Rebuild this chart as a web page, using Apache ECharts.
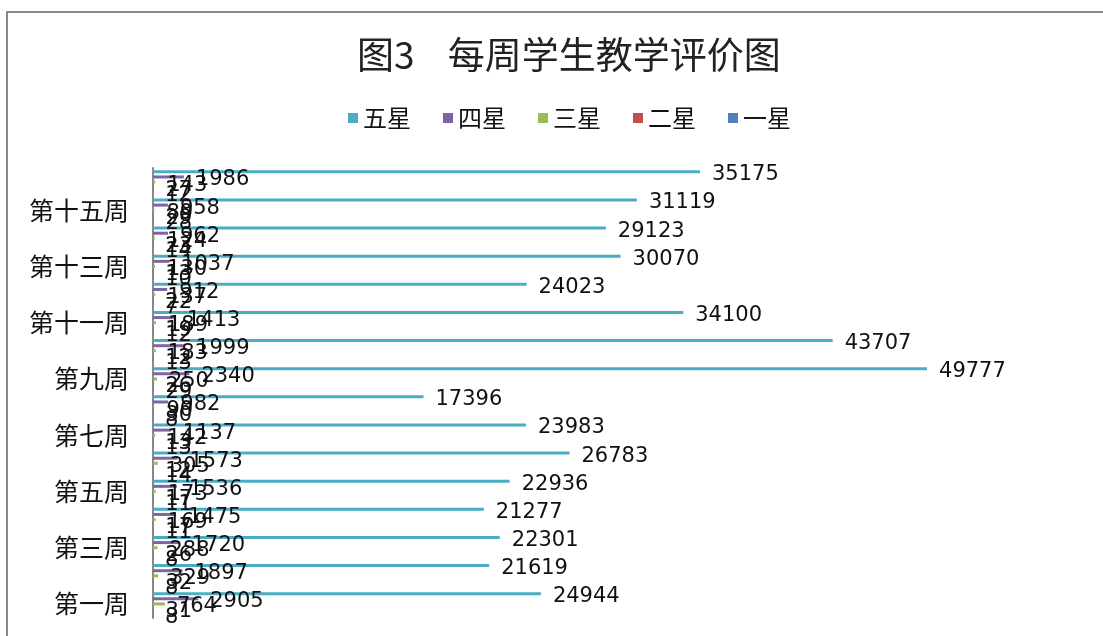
<!DOCTYPE html>
<html>
<head>
<meta charset="utf-8">
<script src="https://cdn.jsdelivr.net/npm/echarts@6/dist/echarts.min.js"></script>
<style>
  html, body { margin: 0; padding: 0; background: #fff; }
  #chart { width: 1103px; height: 636px; }
</style>
</head>
<body>
<div id="chart"></div>
<script>
// categories bottom -> top
var weeks = ['第一周', '第二周', '第三周', '第四周', '第五周', '第六周', '第七周', '第八周',
    '第九周', '第十周', '第十一周', '第十二周', '第十三周', '第十四周', '第十五周', '第十六周'];

var fiveStar = [24944, 21619, 22301, 21277, 22936, 26783, 23983, 17396, 49777, 43707, 34100, 24023, 30070, 29123, 31119, 35175];
var fourStar = [2905, 1897, 1720, 1475, 1536, 1573, 1137, 982, 2340, 1999, 1413, 912, 1037, 962, 958, 1986];
var threeStar = [764, 329, 288, 169, 173, 305, 142, 90, 250, 183, 189, 137, 130, 124, 89, 143];
var twoStar = [31, 32, 26, 17, 17, 12, 13, 30, 26, 12, 19, 22, 13, 23, 29, 27];
var oneStar = [8, 8, 8, 11, 11, 14, 13, 8, 29, 13, 12, 7, 10, 14, 28, 12];

var seriesNames = ['五星', '四星', '三星', '二星', '一星'];
var seriesColors = ['#4BACC6', '#8064A2', '#9BBB59', '#C0504D', '#4F81BD'];
var seriesData = [fiveStar, fourStar, threeStar, twoStar, oneStar];

var chart = echarts.init(document.getElementById('chart'));

var labelFont = 'DejaVu Sans, Verdana, sans-serif';
var cjkFont = '"Noto Sans CJK SC", sans-serif';

var series = seriesNames.map(function (name, i) {
    return {
        name: name,
        type: 'bar',
        data: seriesData[i],
        barWidth: 3,
        barGap: '70%',
        barCategoryGap: '10%',
        itemStyle: { color: seriesColors[i] },
        label: {
            show: true,
            position: 'right',
            distance: 12,
            offset: [0, 3],
            color: '#111',
            fontSize: 21,
            fontFamily: labelFont
        }
    };
});

var option = {
    backgroundColor: '#fff',
    animation: false,
    graphic: [{
        type: 'rect',
        shape: { x: 7, y: 12, width: 1200, height: 700 },
        style: { fill: 'none', stroke: '#888', lineWidth: 2 }
    }],
    title: {
        text: '图3    每周学生教学评价图',
        left: 352,
        top: 31,
        textStyle: {
            fontSize: 37,
            fontWeight: 'normal',
            color: '#222',
            fontFamily: cjkFont
        }
    },
    legend: {
        data: seriesNames,
        top: 101,
        left: 343,
        icon: 'rect',
        itemWidth: 10,
        itemHeight: 10,
        itemGap: 32,
        textStyle: { fontSize: 24, color: '#111', fontFamily: cjkFont }
    },
    grid: {
        left: 153,
        right: 17,
        top: 168,
        bottom: 18,
        containLabel: false
    },
    xAxis: {
        type: 'value',
        min: 0,
        max: 60000,
        show: false
    },
    yAxis: {
        type: 'category',
        data: weeks,
        axisLine: { show: true, lineStyle: { color: '#888', width: 2 } },
        axisTick: { show: false },
        axisLabel: {
            interval: 1,
            fontSize: 25,
            color: '#111',
            margin: 24,
            fontFamily: cjkFont
        }
    },
    series: series
};

chart.setOption(option);
</script>
</body>
</html>
